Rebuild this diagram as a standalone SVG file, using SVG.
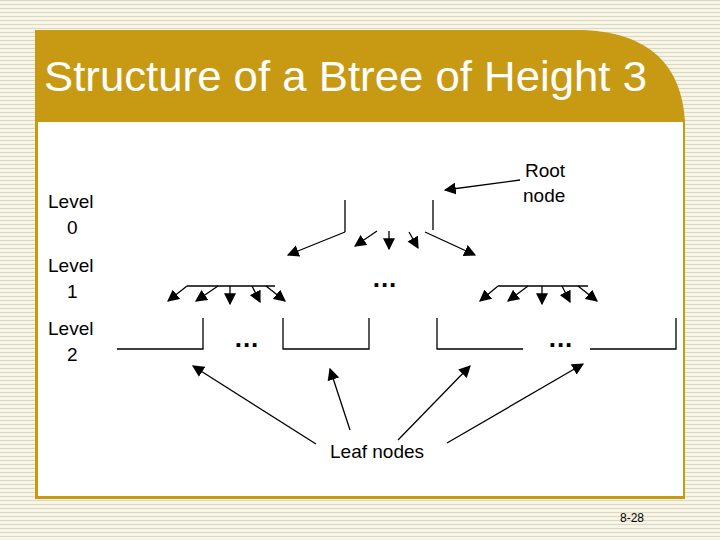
<svg xmlns="http://www.w3.org/2000/svg" width="720" height="540" viewBox="0 0 720 540">
<defs>
<pattern id="st" width="4" height="4" patternUnits="userSpaceOnUse"><rect width="4" height="4" fill="#f7f5e8"/><rect width="4" height="1" fill="#dcd8c0"/></pattern>
<marker id="a" viewBox="0 0 10 10" refX="9" refY="5" markerWidth="12" markerHeight="12" orient="auto" markerUnits="userSpaceOnUse"><path d="M0,0 L10,5 L0,10 z" fill="#000"/></marker>
</defs>
<style>
.t{font-family:"Liberation Sans",Arial,sans-serif;font-size:19px;fill:#000}
.n{fill:none;stroke:#000;stroke-width:1.3}
.c line{stroke:#000;stroke-width:1.3;marker-end:url(#a)}
.d{font-family:"Liberation Sans",Arial,sans-serif;font-size:26px;font-weight:bold;fill:#000;letter-spacing:1px}
</style>
<rect width="720" height="540" fill="url(#st)"/>
<path d="M35,30 H585 Q680,35 685,122 V499 H35 Z" fill="#c89a14"/>
<rect x="38" y="122" width="645" height="374" fill="#fff"/>
<text x="44" y="91" font-family="Liberation Sans,Arial,sans-serif" font-size="42" fill="#fff" textLength="603" lengthAdjust="spacingAndGlyphs">Structure of a Btree of Height 3</text>
<g id="labels">
<text class="t" x="48" y="208">Level</text><text class="t" x="67" y="234">0</text>
<text class="t" x="48" y="272">Level</text><text class="t" x="67" y="298">1</text>
<text class="t" x="48" y="335">Level</text><text class="t" x="67" y="361">2</text>
<text class="t" x="525" y="177">Root</text><text class="t" x="523" y="202">node</text>
<text class="t" x="330" y="458">Leaf nodes</text>
<text x="620" y="522" font-family="Liberation Sans,Arial,sans-serif" font-size="12">8-28</text>
</g>
<g id="root"><path class="n" d="M345,200 V232 M433,200 V230"/></g>
<g id="l1a"><path class="n" d="M187,286 H275"/></g>
<g id="l1b"><path class="n" d="M498,286 H588"/></g>
<g id="leaf1"><path class="n" d="M117,349 H203 V318"/></g>
<g id="leaf2"><path class="n" d="M283,318 V349 H369 V318"/></g>
<g id="leaf3"><path class="n" d="M437,318 V349 H523"/></g>
<g id="leaf4"><path class="n" d="M590,349 H676 V318"/></g>
<g id="dots">
<text class="d" x="385" y="287" text-anchor="middle">...</text>
<text class="d" x="247" y="347" text-anchor="middle">...</text>
<text class="d" x="561" y="347" text-anchor="middle">...</text>
</g>
<g id="connectors" class="c">
<line x1="520" y1="180" x2="445" y2="190"/>
<line x1="345" y1="232" x2="288" y2="255"/>
<line x1="377" y1="231" x2="355" y2="246"/>
<line x1="389" y1="231" x2="389" y2="249"/>
<line x1="409" y1="232" x2="418" y2="248"/>
<line x1="425" y1="232" x2="475" y2="255"/>
<line x1="187" y1="286" x2="168" y2="301"/>
<line x1="218" y1="286" x2="196" y2="301"/>
<line x1="230" y1="286" x2="230" y2="304"/>
<line x1="252" y1="286" x2="260" y2="302"/>
<line x1="266" y1="286" x2="285" y2="301"/>
<line x1="498" y1="286" x2="480" y2="301"/>
<line x1="528" y1="286" x2="508" y2="301"/>
<line x1="542" y1="286" x2="542" y2="304"/>
<line x1="562" y1="286" x2="570" y2="302"/>
<line x1="578" y1="286" x2="597" y2="301"/>
<line x1="316" y1="444" x2="193" y2="366"/>
<line x1="350" y1="430" x2="330" y2="369"/>
<line x1="398" y1="440" x2="470" y2="366"/>
<line x1="447" y1="443" x2="583" y2="364"/>
</g>
</svg>
